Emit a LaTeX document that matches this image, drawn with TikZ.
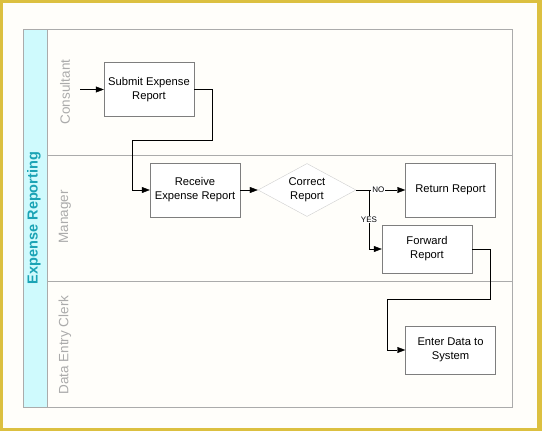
\documentclass[tikz,border=0pt]{standalone}
\usepackage{tikz}
\usetikzlibrary{arrows.meta,positioning,shapes.geometric}
\usepackage{fontspec}
\setmainfont{Liberation Sans}
\definecolor{frameGold}{HTML}{DCC040}
\definecolor{paper}{HTML}{FFFEFA}
\definecolor{titleFill}{HTML}{CFFAFD}
\definecolor{titleText}{HTML}{1AA3B5}
\definecolor{laneLine}{HTML}{ABABAB}
\definecolor{laneText}{HTML}{ABABAB}
\definecolor{boxLine}{HTML}{7E7E7E}
\definecolor{diaLine}{HTML}{CFCFCF}
\tikzset{
  task/.style={rectangle,draw=boxLine,fill=white,minimum width=90pt,minimum height=54pt,
    align=center,font=\fontsize{11.2}{14}\selectfont,inner sep=2pt},
  decision/.style={diamond,draw=diaLine,fill=white,minimum width=98pt,minimum height=53pt,
    aspect=1.85,align=center,font=\fontsize{11.2}{14}\selectfont,inner sep=0pt},
  lane/.style={rotate=90,text=laneText,font=\fontsize{13.5}{15}\selectfont},
  flow/.style={-{Triangle[length=8pt,width=6pt]},thin,black},
  tag/.style={fill=white,inner sep=1pt,font=\fontsize{8}{9}\selectfont}
}

\begin{document}
\begin{tikzpicture}[x=1pt,y=-1pt]
\useasboundingbox (0,0) rectangle (542,431);
% frame and paper
\fill[frameGold] (0,0) rectangle (542,431);
\fill[paper] (3,3) rectangle (537,428);
%
% swimlane frame
\fill[titleFill] (23,29) rectangle (47,407);
\draw[laneLine] (23,29) rectangle (512,407);
\draw[laneLine] (47,29) -- (47,407);
\draw[laneLine] (47,155) -- (512,155);
\draw[laneLine] (47,281) -- (512,281);
\node (title) [rotate=90,text=titleText,font=\fontsize{14.5}{16}\selectfont\bfseries] at (34,218) {Expense Reporting};
\node (consultant) [lane] at (65,92) {Consultant};
\node (manager) [lane] at (65,217) {Manager};
\node (clerk) [lane] at (65,345) {Data Entry Clerk};
%
% tasks
\node (submit) [task] at (149,89.5) {Submit Expense\\Report};
\node (receive) [task] at (195,190) {Receive\\Expense Report};
\node (check) [decision] at (307,190) {Correct\\Report};
\node (return) [task] at (450.5,190) {Return Report};
\node (forward) [task,minimum height=48pt] at (427,249) {Forward\\Report};
\node (enter) [task,minimum height=48pt] at (450.5,350) {Enter Data to\\System};
%
\coordinate (start) at (80,89.5);
\coordinate (s1) at (212,140);
\coordinate (s2) at (132,140);
\coordinate (split) at (369,190);
\coordinate (f1) at (490,299);
\coordinate (f2) at (387,299);
%
\path[flow] (start) edge (submit);
\draw[flow] (submit.east) -| (s1) -- (s2) |- (receive.west);
\path[flow] (receive) edge (check);
\path[flow] (check.east) edge node[tag,pos=0.45] {NO} (return.west);
\draw[flow] (split) |- node[tag,pos=0.25] {YES} (forward.west);
\draw[flow] (forward.east) -| (f1) -- (f2) |- (enter.west);
\end{tikzpicture}
\end{document}
